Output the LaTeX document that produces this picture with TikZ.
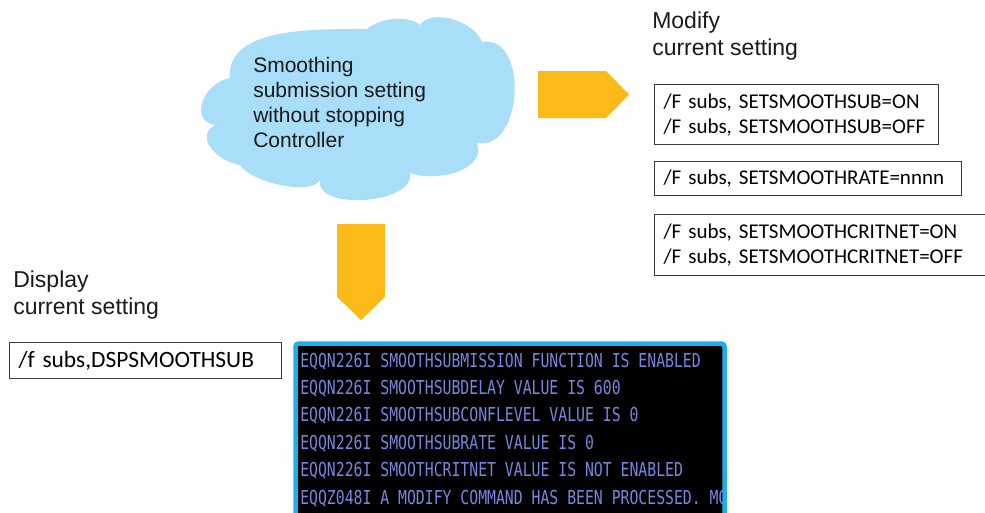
\documentclass[tikz,border=0pt]{standalone}
\usepackage{fontspec}
\setmainfont{Liberation Sans}
\newfontfamily\calfont{Carlito}
\newfontfamily\termfont[FakeStretch=0.77]{DejaVu Sans Mono}
\newdimen\pxu \pxu=0.75pt
\definecolor{cloudblue}{RGB}{168,222,248}
\definecolor{amber}{RGB}{251,186,24}
\definecolor{termblue}{RGB}{26,176,238}
\definecolor{termink}{RGB}{118,136,222}
\definecolor{boxgray}{RGB}{58,58,58}
\definecolor{inkdark}{RGB}{26,26,26}
\begin{document}
\begin{tikzpicture}[x=0.75pt,y=-0.75pt,
  cloudfill/.style={fill=cloudblue},
  arrowfill/.style={fill=amber},
  heading/.style={anchor=base west, inner sep=0pt, align=left, text=inkdark,
    font=\fontsize{23\pxu}{27\pxu}\selectfont},
  cmdbox/.style={draw=boxgray, line width=1.2\pxu, rectangle, anchor=north west,
    inner xsep=9\pxu, inner ysep=0pt, align=left, text=black,
    font=\calfont\frenchspacing\fontsize{21\pxu}{25\pxu}\selectfont},
  screen/.style={draw=termblue, fill=black, line width=4.5\pxu, rounded corners=3\pxu},
  screentext/.style={anchor=base west, inner sep=0pt, align=left, text=termink,
    font=\termfont\fontsize{19.2\pxu}{27.4\pxu}\selectfont}]
\useasboundingbox (0,0) rectangle (985,512);
\clip (0,0) rectangle (985,512);

% cloud, puff by puff (text nodes below are anchored at the baseline of their last line)
\fill[cloudfill] (230,78)
  to[out=95,in=180,looseness=0.9] (367,29)
  to[out=40,in=140,looseness=0.8] (420,25)
  to[out=55,in=110,looseness=0.85] (482,42)
  to[out=10,in=-10,looseness=1.2] (477,143)
  to[out=-70,in=-20] (410,173)
  to[out=-80,in=-100,looseness=0.9] (320,180)
  to[out=-120,in=-60,looseness=0.6] (240,165)
  to[out=170,in=-150,looseness=1.3] (215,125)
  to[out=170,in=190,looseness=1.4] (230,78) -- cycle;
\node (cloudtext) [anchor=base west, inner sep=0pt, align=left, text=inkdark,
  font=\fontsize{21\pxu}{25\pxu}\selectfont] at (253,147)
  {Smoothing\\submission setting\\without stopping\\Controller};

% block arrows
\fill[arrowfill] (538,71) -- (606,71) -- (629,94.5) -- (606,118) -- (538,118) -- cycle;
\fill[arrowfill] (337,224) -- (385,224) -- (385,297) -- (361,320) -- (337,297) -- cycle;

% headings
\node (modhead) [heading] at (652,55) {Modify\\current setting};
\node (disphead) [heading] at (13,314) {Display\\current setting};

% command boxes
\node (subbox) [cmdbox, text width=266\pxu, minimum height=60\pxu] at (654,84)
  {/F subs, SETSMOOTHSUB=ON\\/F subs, SETSMOOTHSUB=OFF};
\node (ratebox) [cmdbox, text width=289\pxu, minimum height=34\pxu] at (654,161)
  {/F subs, SETSMOOTHRATE=nnnn};
\node (critbox) [cmdbox, text width=320\pxu, minimum height=61\pxu] at (654,214)
  {/F subs, SETSMOOTHCRITNET=ON\\/F subs, SETSMOOTHCRITNET=OFF};
\node (dispcmd) [cmdbox, text width=254\pxu, minimum height=36\pxu,
  font=\calfont\fontsize{23.4\pxu}{28\pxu}\selectfont] at (9,342)
  {/f subs,DSPSMOOTHSUB};

% console output
\draw[screen] (295.5,343.5) rectangle (724.5,540);
\begin{scope}
  \clip (297.8,345.8) rectangle (722.2,512);
  \node (console) [screentext] at (300,504)
    {EQQN226I SMOOTHSUBMISSION FUNCTION IS ENABLED\\
     EQQN226I SMOOTHSUBDELAY VALUE IS 600\\
     EQQN226I SMOOTHSUBCONFLEVEL VALUE IS 0\\
     EQQN226I SMOOTHSUBRATE VALUE IS 0\\
     EQQN226I SMOOTHCRITNET VALUE IS NOT ENABLED\\
     EQQZ048I A MODIFY COMMAND HAS BEEN PROCESSED. MO};
\end{scope}
\end{tikzpicture}
\end{document}
